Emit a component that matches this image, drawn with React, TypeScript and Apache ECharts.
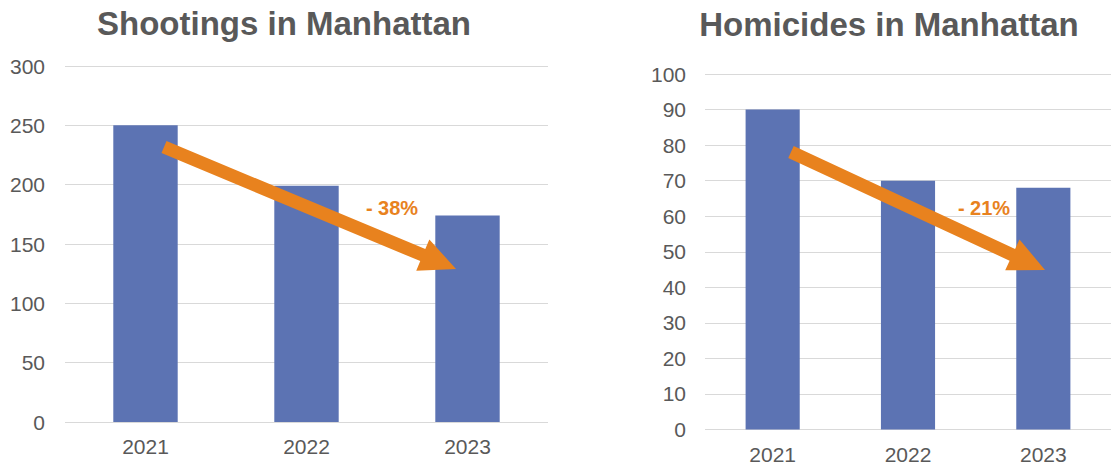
import React, { useEffect, useRef } from "react";
import * as echarts from "echarts";

const years = ["2021", "2022", "2023"];
const shootings = [250, 199, 174];
const homicides = [90, 70, 68];
const titles = ["Shootings in Manhattan", "Homicides in Manhattan"];
const changeLabels = ["- 38%", "- 21%"];

const FONT = "'Liberation Sans', Arial, sans-serif";
const GREY = "#595959";
const ORANGE = "#E8821E";
const BAR = "#5C73B3";

function arrowPoints(s: number[], t: number[], shaftHalf: number, headHalf: number, headLen: number) {
  const dx = t[0] - s[0];
  const dy = t[1] - s[1];
  const len = Math.sqrt(dx * dx + dy * dy);
  const ux = dx / len, uy = dy / len;
  const nx = -uy, ny = ux;
  const hx = t[0] - ux * headLen, hy = t[1] - uy * headLen;
  return [
    [s[0] + nx * shaftHalf, s[1] + ny * shaftHalf],
    [hx + nx * shaftHalf, hy + ny * shaftHalf],
    [hx + nx * headHalf, hy + ny * headHalf],
    [t[0], t[1]],
    [hx - nx * headHalf, hy - ny * headHalf],
    [hx - nx * shaftHalf, hy - ny * shaftHalf],
    [s[0] - nx * shaftHalf, s[1] - ny * shaftHalf],
  ];
}

export default function App() {
  const ref = useRef<HTMLDivElement>(null);
  useEffect(() => {
    if (!ref.current) return;
    const chart = echarts.init(ref.current, undefined, { renderer: "svg" });
    const axisLabel = { color: GREY, fontSize: 21, fontFamily: FONT };
    const splitLine = { show: true, lineStyle: { color: "#D9D9D9", width: 1 } };
    chart.setOption({
      animation: false,
      backgroundColor: "#FFFFFF",
      grid: [
        { left: 65, right: 563, top: 66, bottom: 44 },
        { left: 705, right: -8, top: 74, bottom: 36.5 },
      ],
      xAxis: [0, 1].map((i) => ({
        type: "category",
        gridIndex: i,
        data: years,
        axisLine: { show: false },
        axisTick: { show: false },
        axisLabel: { ...axisLabel, margin: 14 },
      })),
      yAxis: [
        { type: "value", gridIndex: 0, min: 0, max: 300, interval: 50, axisLabel: { ...axisLabel, margin: 20 }, splitLine, axisLine: { show: false }, axisTick: { show: false } },
        { type: "value", gridIndex: 1, min: 0, max: 100, interval: 10, axisLabel: { ...axisLabel, margin: 19 }, splitLine, axisLine: { show: false }, axisTick: { show: false } },
      ],
      series: [
        { type: "bar", xAxisIndex: 0, yAxisIndex: 0, data: shootings, barWidth: "40%", itemStyle: { color: BAR } },
        { type: "bar", xAxisIndex: 1, yAxisIndex: 1, data: homicides, barWidth: "40%", itemStyle: { color: BAR } },
      ],
      graphic: [
        { type: "text", z: 100, x: 284, y: 23, style: { text: titles[0], fill: GREY, font: `bold 33px ${FONT}`, textAlign: "center", textVerticalAlign: "middle" } },
        { type: "text", z: 100, x: 889, y: 24, style: { text: titles[1], fill: GREY, font: `bold 33px ${FONT}`, textAlign: "center", textVerticalAlign: "middle" } },
        { type: "polygon", z: 100, shape: { points: arrowPoints([164, 147], [456, 269], 6.5, 17, 36) }, style: { fill: ORANGE } },
        { type: "polygon", z: 100, shape: { points: arrowPoints([791, 152], [1045, 270], 6.5, 17, 36) }, style: { fill: ORANGE } },
        { type: "text", z: 100, x: 392, y: 208, style: { text: changeLabels[0], fill: ORANGE, font: `bold 20px ${FONT}`, textAlign: "center", textVerticalAlign: "middle" } },
        { type: "text", z: 100, x: 984, y: 208, style: { text: changeLabels[1], fill: ORANGE, font: `bold 20px ${FONT}`, textAlign: "center", textVerticalAlign: "middle" } },
      ],
    });
    return () => chart.dispose();
  }, []);
  return <div ref={ref} style={{ position: "absolute", left: 0, top: 0, width: 1111, height: 466 }} />;
}
